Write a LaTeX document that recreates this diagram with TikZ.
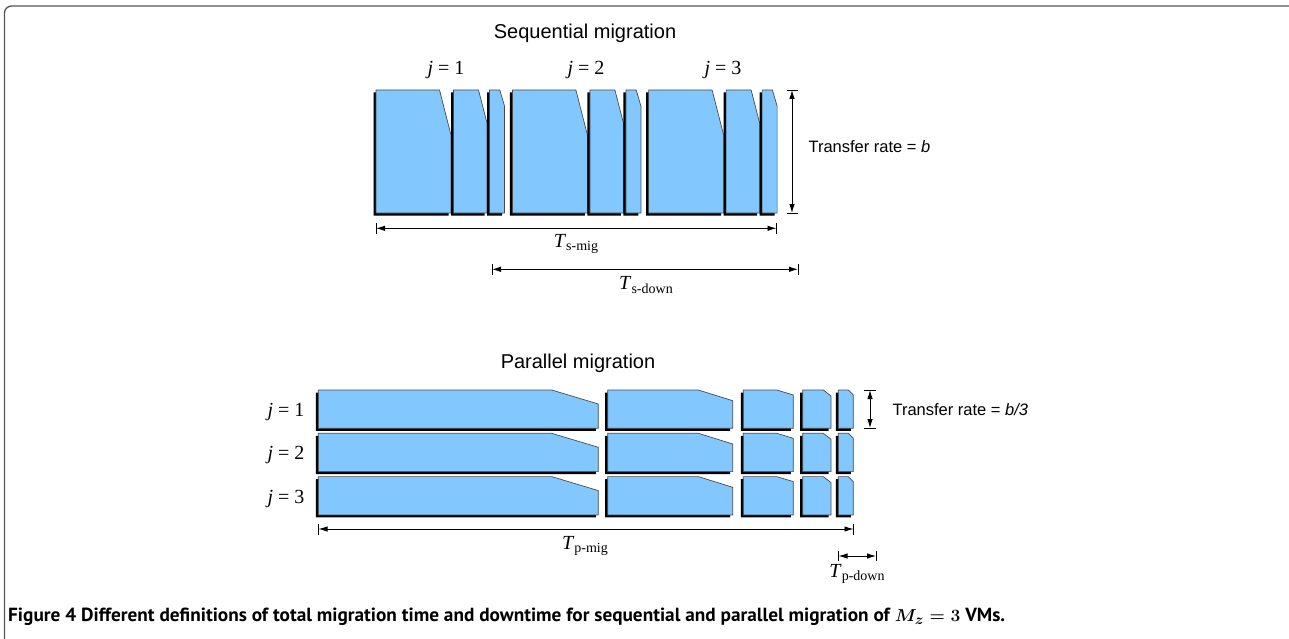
\documentclass[tikz,border=0pt]{standalone}
\usepackage{fontspec}
\usepackage{graphicx}
\setmainfont{Liberation Serif}
\newfontfamily\arialfont{Liberation Sans}
\newfontfamily\capfont{PT Sans}
\usetikzlibrary{arrows.meta}
\definecolor{blockblue}{HTML}{82C8FF}
\definecolor{blockline}{HTML}{4A4A4A}
\definecolor{framegray}{HTML}{555555}
% #1 x-left, #2 x where slant starts, #3 x-right, #4 y where slant ends, #5 y-top, #6 y-bottom
\newcommand{\vmblock}[6]{%
  \fill[black] ({#1-2.5},{#6+2.5}) -- ({#1-2.5},{#5+2.5}) -- ({#2-2.5},{#5+2.5}) -- ({#3-2.5},{#4+2.5}) -- ({#3-2.5},{#6+2.5}) -- cycle;
  \filldraw[fill=blockblue, draw=blockline, line width=0.7pt] (#1,#6) -- (#1,#5) -- (#2,#5) -- (#3,#4) -- (#3,#6) -- cycle;
}
\newcommand{\tlabel}[2]{\textit{#1}\raisebox{-0.4ex}{\fontsize{14}{14}\selectfont #2}}
\begin{document}
\begin{tikzpicture}[x=1pt,y=-1pt,
  dimarrow/.style={line width=0.9pt, {Latex[length=9pt,width=5.5pt]}-{Latex[length=9pt,width=5.5pt]}},
  tick/.style={line width=0.9pt},
  titletext/.style={font=\arialfont\fontsize{20}{22}\selectfont},
  ratetext/.style={font=\arialfont\fontsize{16.5}{18}\selectfont, anchor=west},
  jtext/.style={font=\fontsize{20}{22}\selectfont},
  ttext/.style={font=\fontsize{20}{22}\selectfont}]
\useasboundingbox (0,0) rectangle (1289,639);
% frame
\begin{scope}
\clip (0,0) rectangle (1289,639);
\draw[framegray, line width=1.3pt, rounded corners=7pt] (4.5,6) rectangle (1300,650);
\end{scope}

% ---------- Sequential ----------
\node[titletext] (seqtitle) at (585,33) {Sequential migration};
\node[jtext] (sj1) at (446,70) {\textit{j} = 1};
\node[jtext] (sj2) at (586,70) {\textit{j} = 2};
\node[jtext] (sj3) at (723,70) {\textit{j} = 3};

\vmblock{376}{439.5}{451}{135}{90}{213}
\vmblock{453.5}{478.5}{487}{123}{90}{213}
\vmblock{489.5}{499.8}{504.5}{106}{90}{213}
\vmblock{512.4}{575.9}{587.4}{135}{90}{213}
\vmblock{589.9}{614.9}{623.4}{123}{90}{213}
\vmblock{625.9}{636.2}{640.9}{106}{90}{213}
\vmblock{648.6}{712.1}{723.6}{135}{90}{213}
\vmblock{726.1}{751.1}{759.6}{123}{90}{213}
\vmblock{762.1}{772.4}{777.1}{106}{90}{213}

% transfer rate b
\coordinate (rbT) at (792,90);
\coordinate (rbB) at (792,213);
\draw[tick] (786.5,90) -- (797.5,90);
\draw[tick] (786.5,213) -- (797.5,213);
\draw[dimarrow] (rbT) -- (rbB);
\node[ratetext] (rateb) at (805,147) {Transfer rate = \textit{b}};

% T s-mig
\coordinate (smL) at (376,228.3);
\coordinate (smR) at (776.5,228.3);
\draw[tick] (376,222.8) -- (376,233.8);
\draw[tick] (776.5,222.8) -- (776.5,233.8);
\draw[dimarrow] (smL) -- (smR);
\node[ttext] (tsmig) at (576,244) {\tlabel{T}{s-mig}};

% T s-down
\coordinate (sdL) at (492,269.3);
\coordinate (sdR) at (798,269.3);
\draw[tick] (492,263.8) -- (492,274.8);
\draw[tick] (798,263.8) -- (798,274.8);
\draw[dimarrow] (sdL) -- (sdR);
\node[ttext] (tsdown) at (646,285) {\tlabel{T}{s-down}};

% ---------- Parallel ----------
\node[titletext] (partitle) at (578,363) {Parallel migration};
\node[jtext, anchor=east] (pj1) at (308,412) {\textit{j} = 1};
\node[jtext, anchor=east] (pj2) at (308,455.3) {\textit{j} = 2};
\node[jtext, anchor=east] (pj3) at (308,498.6) {\textit{j} = 3};

\foreach \t in {390,433.3,476.6}{
  \vmblock{318.3}{551.7}{598.3}{\t+14}{\t}{\t+38.3}
  \vmblock{607.7}{698.3}{732.7}{\t+10.7}{\t}{\t+38.3}
  \vmblock{743.3}{776.7}{793.3}{\t+5}{\t}{\t+38.3}
  \vmblock{802.7}{823.3}{831}{\t+6}{\t}{\t+38.3}
  \vmblock{838.3}{848.3}{853.3}{\t+5}{\t}{\t+38.3}
}

% transfer rate b/3
\coordinate (rpT) at (870,390);
\coordinate (rpB) at (870,428);
\draw[tick] (863.5,390) -- (876,390);
\draw[tick] (863.5,428) -- (876,428);
\draw[dimarrow] (rpT) -- (rpB);
\node[ratetext] (rateb3) at (889,410) {Transfer rate = \textit{b/3}};

% T p-mig
\coordinate (pmL) at (318.5,529);
\coordinate (pmR) at (853.5,529);
\draw[tick] (318.5,523.5) -- (318.5,534.5);
\draw[tick] (853.5,523.5) -- (853.5,534.5);
\draw[dimarrow] (pmL) -- (pmR);
\node[ttext] (tpmig) at (585,546) {\tlabel{T}{p-mig}};

% T p-down
\coordinate (pdL) at (838.5,556);
\coordinate (pdR) at (876,556);
\draw[tick] (838.5,551) -- (838.5,561);
\draw[tick] (876,551) -- (876,561);
\draw[dimarrow] (pdL) -- (pdR);
\node[ttext] (tpdown) at (857,574) {\tlabel{T}{p-down}};

% caption
\node[anchor=base west, inner sep=0pt] (caption) at (8,621.5)
  {\resizebox{997pt}{\height}{\capfont\bfseries\fontsize{19}{21}\selectfont Figure 4 Different definitions of total migration time and downtime for sequential and parallel migration of \boldmath$M_z = 3$ VMs.}};
\end{tikzpicture}
\end{document}
